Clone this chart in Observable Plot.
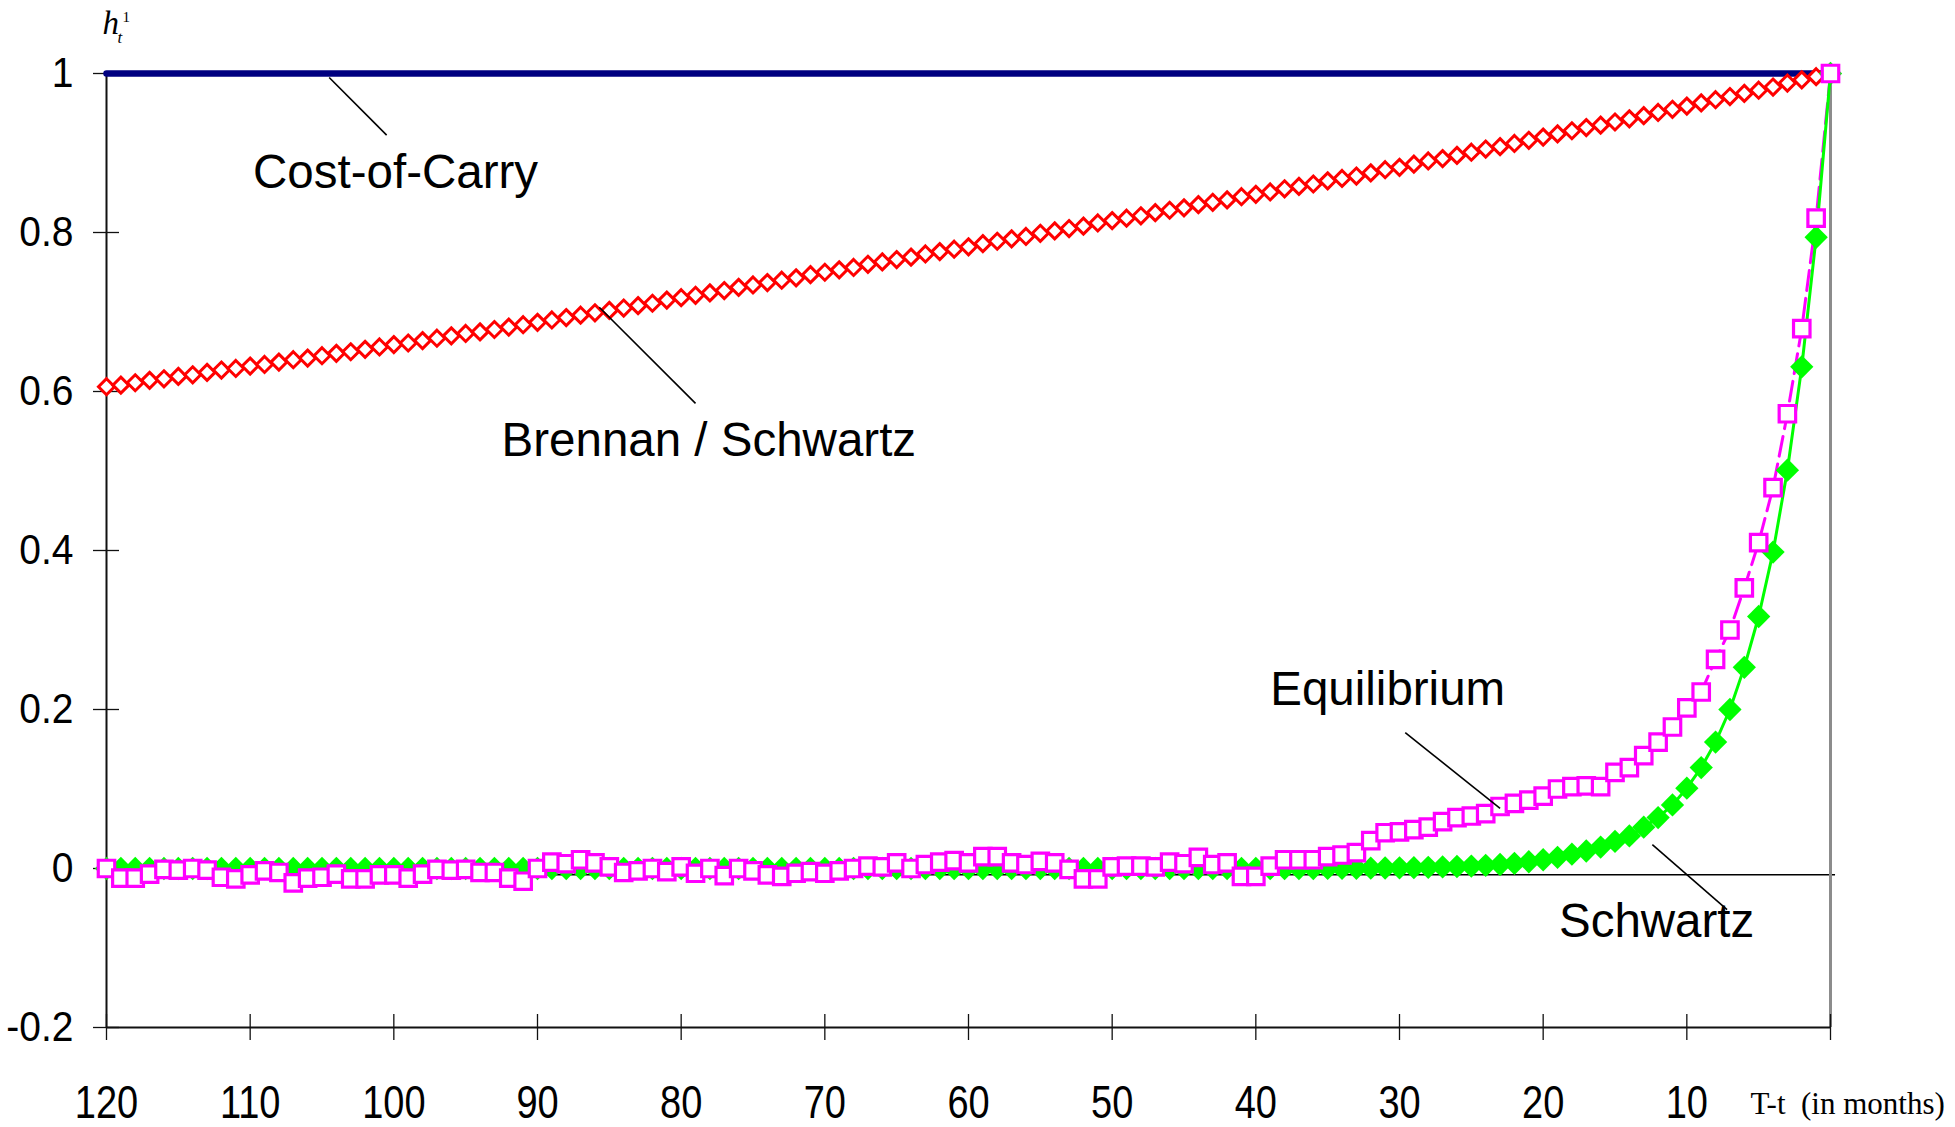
<!DOCTYPE html>
<html>
<head>
<meta charset="utf-8">
<script src="https://cdn.jsdelivr.net/npm/d3@7"></script>
<script src="https://cdn.jsdelivr.net/npm/@observablehq/plot@0.6"></script>
<style>
  html, body { margin: 0; padding: 0; background: #ffffff; }
  #chart { width: 1955px; height: 1127px; }
</style>
</head>
<body>
<div id="chart"></div>
<script>
// ---- Data (time to maturity T-t in months) ----
const months = [
  120,119,118,117,116,115,114,113,112,111,110,109,108,107,106,105,104,103,102,101,
  100,99,98,97,96,95,94,93,92,91,90,89,88,87,86,85,84,83,82,81,
  80,79,78,77,76,75,74,73,72,71,70,69,68,67,66,65,64,63,62,61,
  60,59,58,57,56,55,54,53,52,51,50,49,48,47,46,45,44,43,42,41,
  40,39,38,37,36,35,34,33,32,31,30,29,28,27,26,25,24,23,22,21,
  20,19,18,17,16,15,14,13,12,11,10,9,8,7,6,5,4,3,2,1,0
];

const costOfCarry = [
  1,1,1,1,1,1,1,1,1,1,1,1,1,1,1,1,1,1,1,1,
  1,1,1,1,1,1,1,1,1,1,1,1,1,1,1,1,1,1,1,1,
  1,1,1,1,1,1,1,1,1,1,1,1,1,1,1,1,1,1,1,1,
  1,1,1,1,1,1,1,1,1,1,1,1,1,1,1,1,1,1,1,1,
  1,1,1,1,1,1,1,1,1,1,1,1,1,1,1,1,1,1,1,1,
  1,1,1,1,1,1,1,1,1,1,1,1,1,1,1,1,1,1,1,1,1
];

const brennanSchwartz = [
  0.606,0.608,0.611,0.614,0.616,0.619,0.621,0.624,0.627,0.629,0.632,0.634,0.637,0.640,0.642,0.645,0.648,0.650,0.653,0.656,
  0.659,0.661,0.664,0.667,0.670,0.673,0.675,0.678,0.681,0.684,0.687,0.690,0.693,0.696,0.699,0.702,0.705,0.708,0.711,0.715,
  0.718,0.721,0.724,0.727,0.731,0.734,0.737,0.740,0.743,0.747,0.750,0.753,0.756,0.760,0.763,0.766,0.769,0.773,0.776,0.779,
  0.782,0.786,0.789,0.792,0.795,0.799,0.802,0.805,0.808,0.812,0.815,0.818,0.821,0.825,0.828,0.831,0.835,0.838,0.841,0.845,
  0.848,0.851,0.855,0.858,0.861,0.865,0.868,0.871,0.875,0.879,0.882,0.886,0.890,0.893,0.897,0.901,0.905,0.908,0.912,0.916,
  0.920,0.924,0.928,0.932,0.935,0.939,0.943,0.947,0.951,0.955,0.959,0.963,0.967,0.971,0.975,0.979,0.983,0.988,0.992,0.996,1.000
];

const equilibrium = [
  0.000,-0.012,-0.012,-0.007,-0.001,-0.002,0.000,-0.002,-0.011,-0.013,-0.008,-0.003,-0.005,-0.018,-0.012,-0.011,-0.007,-0.013,-0.013,-0.008,
  -0.008,-0.012,-0.007,-0.001,-0.002,-0.001,-0.005,-0.005,-0.012,-0.016,0.000,0.008,0.006,0.011,0.007,0.002,-0.005,-0.003,0.000,-0.004,
  0.002,-0.006,0.000,-0.009,0.000,-0.003,-0.008,-0.010,-0.006,-0.004,-0.006,-0.003,0.000,0.003,0.002,0.007,0.000,0.005,0.008,0.010,
  0.007,0.015,0.015,0.007,0.005,0.009,0.007,-0.001,-0.013,-0.013,0.002,0.003,0.003,0.002,0.008,0.006,0.014,0.005,0.007,-0.010,
  -0.010,0.003,0.011,0.011,0.011,0.015,0.017,0.020,0.035,0.045,0.046,0.049,0.052,0.059,0.064,0.066,0.069,0.078,0.082,0.086,
  0.091,0.100,0.103,0.104,0.103,0.121,0.127,0.142,0.159,0.178,0.202,0.222,0.263,0.300,0.353,0.410,0.479,0.572,0.679,0.818,1.000
];

const schwartz = [
  0,0,0,0,0,0,0,0,0,0,0,0,0,0,0,0,0,0,0,0,
  0,0,0,0,0,0,0,0,0,0,0,0,0,0,0,0,0,0,0,0,
  0,0,0,0,0,0,0,0,0,0,0,0,0,0,0,0,0,0,0,0,
  0,0,0,0,0,0,0,0,0,0,0,0,0,0,0,0,0,0,0,0,
  0,0,0,0,0,0.0001,0.0002,0.0003,0.0004,0.0006,0.0008,0.001,0.0015,0.002,0.0025,0.003,0.004,0.005,0.0065,0.0085,
  0.011,0.014,0.018,0.022,0.027,0.034,0.041,0.052,0.064,0.080,0.101,0.127,0.159,0.200,0.253,0.317,0.398,0.501,0.631,0.794,1.000
];

// ---- Axes ----
const xTicks = [120, 110, 100, 90, 80, 70, 60, 50, 40, 30, 20, 10, 0];
const xTickLabels = ["120", "110", "100", "90", "80", "70", "60", "50", "40", "30", "20", "10", ""];
const yTicks = [-0.2, 0, 0.2, 0.4, 0.6, 0.8, 1];
const yTickLabels = ["-0.2", "0", "0.2", "0.4", "0.6", "0.8", "1"];
const xDomain = [120, 0];
const yDomain = [-0.2, 1];
const zeroLine = [-0.008];
const zeroLineEnd = [120, -0.35];

// ---- Annotations ----
const labelNames = ["Cost-of-Carry", "Brennan / Schwartz", "Equilibrium", "Schwartz"];
const labelX = [109.8, 92.5, 39.0, 18.9];
const labelY = [0.875, 0.538, 0.2245, -0.0667];
const leaderX1 = [104.5, 85.7, 29.6, 12.4];
const leaderY1 = [0.995, 0.706, 0.171, 0.030];
const leaderX2 = [100.5, 79.0, 23.0, 7.2];
const leaderY2 = [0.9225, 0.585, 0.0755, -0.0516];
const xAxisTitle = ["T-t \u00a0(in months)"];

// ---- Tables built from the arrays ----
const rows = months.map((m, i) => ({
  m, coc: costOfCarry[i], bs: brennanSchwartz[i], eq: equilibrium[i], sch: schwartz[i]
}));
const labels = labelNames.map((t, i) => ({ t, x: labelX[i], y: labelY[i] }));
const leaders = labelNames.map((t, i) => ({ x1: leaderX1[i], y1: leaderY1[i], x2: leaderX2[i], y2: leaderY2[i] }));

const sans = "'Liberation Sans', Arial, Helvetica, sans-serif";
const serif = "'Liberation Serif', 'Times New Roman', Times, serif";

const svg = Plot.plot({
  width: 1955,
  height: 1127,
  marginLeft: 106,
  marginRight: 125,
  marginTop: 73,
  marginBottom: 100,
  x: { domain: xDomain },
  y: { domain: yDomain },
  style: { fontFamily: sans, background: "#ffffff", color: "#000000", overflow: "visible" },
  marks: [
    // zero reference line
    Plot.ruleY(zeroLine, { x1: zeroLineEnd[0], x2: zeroLineEnd[1], stroke: "#000000", strokeWidth: 1.5 }),
    // axis lines
    Plot.ruleX([xDomain[0]], { y1: yDomain[0], y2: yDomain[1], stroke: "#111111", strokeWidth: 2 }),
    Plot.ruleX([xDomain[1]], { y1: yDomain[0], y2: yDomain[1], stroke: "#8c8c8c", strokeWidth: 3 }),
    Plot.ruleY([yDomain[0]], { x1: xDomain[0], x2: xDomain[1], stroke: "#111111", strokeWidth: 2 }),
    // cross tick marks
    Plot.axisY({ ticks: yTicks, tickSize: 26, dx: 13, fill: "none", stroke: "#111111", strokeWidth: 1.3, label: null }),
    Plot.axisX({ ticks: xTicks, tickSize: 26, dy: -13, fill: "none", stroke: "#111111", strokeWidth: 1.3, label: null }),
    // tick labels
    Plot.axisY({ ticks: yTicks, tickSize: 0, tickPadding: 33, fontSize: 39,
      tickFormat: d => yTickLabels[yTicks.indexOf(d)], label: null }),
    Plot.axisX({ ticks: xTicks, tickSize: 0, tickPadding: 58, fontSize: 38,
      tickFormat: d => xTickLabels[xTicks.indexOf(d)], label: null }),
    // Cost-of-Carry
    Plot.line(rows, { x: "m", y: "coc", stroke: "#000080", strokeWidth: 6.5 }),
    // Brennan / Schwartz
    Plot.dot(rows, { x: "m", y: "bs", symbol: "diamond2", r: 7.2, stroke: "#ff0000", strokeWidth: 3, fill: "#ffffff" }),
    // Equilibrium line
    Plot.line(rows, { x: "m", y: "eq", stroke: "#ff00ff", strokeWidth: 3, strokeDasharray: "20,8" }),
    // Schwartz
    Plot.line(rows, { x: "m", y: "sch", stroke: "#00ff00", strokeWidth: 3 }),
    Plot.dot(rows, { x: "m", y: "sch", symbol: "diamond2", r: 10.5, fill: "#00ff00", stroke: null }),
    // Equilibrium markers
    Plot.dot(rows, { x: "m", y: "eq", symbol: "square", r: 9.3, stroke: "#ff00ff", strokeWidth: 3.2, fill: "#ffffff" }),
    // annotation leaders and labels
    Plot.link(leaders, { x1: "x1", y1: "y1", x2: "x2", y2: "y2", stroke: "#000000", strokeWidth: 1.6 }),
    Plot.text(labels, { x: "x", y: "y", text: "t", textAnchor: "start", fontSize: 47.5, fill: "#000000" }),
    // axis titles
    Plot.text(["h"], { frameAnchor: "top-left", dx: -4, dy: -40, textAnchor: "start", lineAnchor: "bottom",
      fontFamily: serif, fontStyle: "italic", fontSize: 33 }),
    Plot.text(["t"], { frameAnchor: "top-left", dx: 11, dy: -31, textAnchor: "start", lineAnchor: "bottom",
      fontFamily: serif, fontStyle: "italic", fontSize: 17 }),
    Plot.text(["1"], { frameAnchor: "top-left", dx: 16, dy: -52, textAnchor: "start", lineAnchor: "bottom",
      fontFamily: serif, fontSize: 15 }),
    Plot.text(xAxisTitle, { frameAnchor: "bottom-right", dx: -80, dy: 86, textAnchor: "start", lineAnchor: "bottom",
      fontFamily: serif, fontSize: 31 })
  ]
});

// taller, condensed look of the tick labels
d3.select(svg).selectAll('g[aria-label="x-axis tick label"] text').each(function () {
  const t = this.getAttribute("transform") || "";
  this.setAttribute("transform", t + " scale(1,1.22)");
});
d3.select(svg).selectAll('g[aria-label="y-axis tick label"] text').each(function () {
  const t = this.getAttribute("transform") || "";
  this.setAttribute("transform", t + " scale(1,1.1)");
});

document.getElementById("chart").appendChild(svg);
</script>
</body>
</html>
